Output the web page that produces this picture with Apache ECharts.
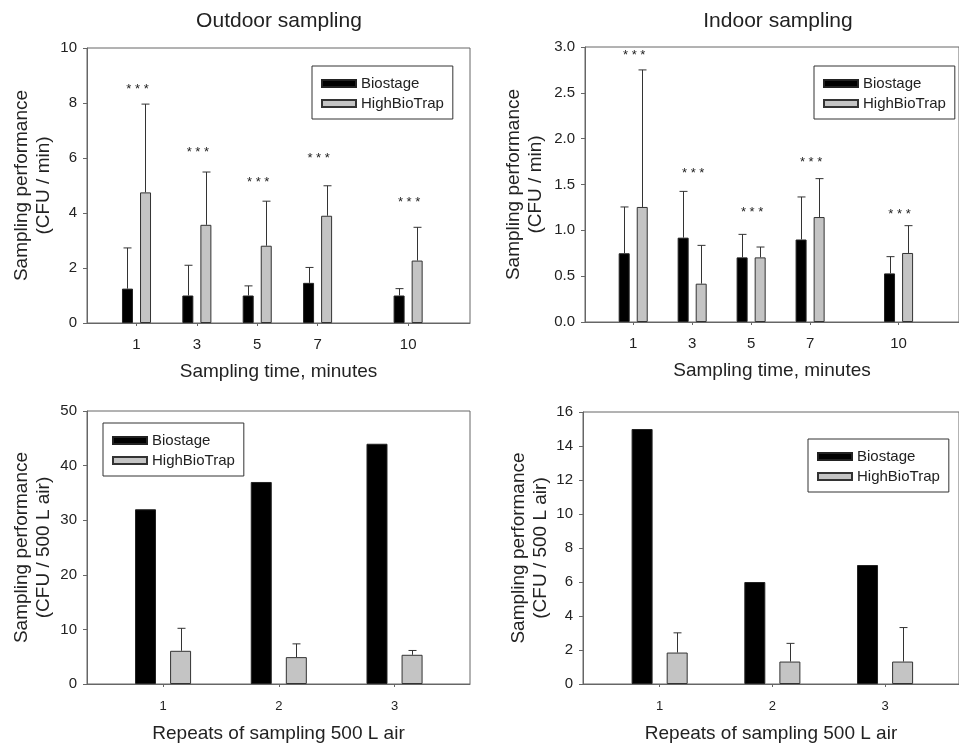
<!DOCTYPE html>
<html>
<head>
<meta charset="utf-8">
<script src="https://cdn.jsdelivr.net/npm/echarts@6/dist/echarts.min.js"></script>
<style>
html,body{margin:0;padding:0;background:#fff;}
#chart{width:959px;height:744px;}
</style>
</head>
<body>
<div id="chart"></div>
<script>
// ---- Data ----
const timeCats = [1, 3, 5, 7, 10];
const outdoorBio = [1.25, 1.0, 1.0, 1.46, 1.0];
const outdoorBioErr = [2.73, 2.1, 1.35, 2.02, 1.25];
const outdoorHBT = [4.75, 3.57, 2.81, 3.9, 2.27];
const outdoorHBTErr = [7.96, 5.49, 4.43, 4.99, 3.48];
const outdoorStars = [8.5, 6.2, 5.1, 6.0, 4.4];

const indoorBio = [0.75, 0.92, 0.705, 0.9, 0.53];
const indoorBioErr = [1.255, 1.425, 0.956, 1.364, 0.713];
const indoorHBT = [1.255, 0.418, 0.705, 1.145, 0.753];
const indoorHBTErr = [2.75, 0.836, 0.818, 1.564, 1.051];
const indoorStars = [2.91, 1.62, 1.2, 1.74, 1.17];

const repeatCats = [1, 2, 3];
const outdoorRepBio = [32, 37, 44];
const outdoorRepHBT = [6.08, 4.92, 5.35];
const outdoorRepHBTErr = [10.2, 7.35, 6.14];

const indoorRepBio = [15, 6, 7];
const indoorRepHBT = [1.85, 1.32, 1.32];
const indoorRepHBTErr = [3.01, 2.39, 3.32];

const seriesNames = ['Biostage', 'HighBioTrap'];

// ---- Styles ----
const FONT = "'Liberation Sans', Arial, sans-serif";
const TXT = '#222';
const AX = '#666';

function pairs(cats, vals) { return cats.map((c, i) => [c, vals[i]]); }
function triples(cats, vals, tops) { return cats.map((c, i) => [c, vals[i], tops[i]]); }

function errRender(offset, capHalf) {
  return function (params, api) {
    const x = api.value(0), v = api.value(1), t = api.value(2);
    const p0 = api.coord([x, v]);
    const p1 = api.coord([x, t]);
    const cx = Math.round(p0[0] + offset) + 0.5;
    return {
      type: 'group',
      children: [
        { type: 'line', shape: { x1: cx, y1: p0[1], x2: cx, y2: p1[1] }, style: { stroke: '#333', lineWidth: 1 } },
        { type: 'line', shape: { x1: cx - capHalf, y1: p1[1], x2: cx + capHalf, y2: p1[1] }, style: { stroke: '#333', lineWidth: 1 } }
      ]
    };
  };
}

function starRender(params, api) {
  const p = api.coord([api.value(0), api.value(1)]);
  return {
    type: 'text',
    style: { text: '* * *', x: p[0] + 1, y: p[1], textAlign: 'center', textVerticalAlign: 'middle',
             fontSize: 13, fontFamily: FONT, fill: '#222' }
  };
}

const grids = [
  { left: 87, top: 48, width: 383, height: 275 },
  { left: 585, top: 47, width: 384, height: 275 },
  { left: 87, top: 411, width: 383, height: 274 },
  { left: 583, top: 412, width: 387, height: 274 }
].map(g => Object.assign(g, { show: true, borderColor: AX, borderWidth: 1, backgroundColor: 'transparent' }));

function xAxis(idx, cats, min, max, name, labelSize, labelMargin, nameGap) {
  return {
    gridIndex: idx, type: 'value', min: min, max: max,
    axisLine: { show: true, onZero: false, lineStyle: { color: AX } },
    axisTick: { show: true, customValues: cats, length: 3, lineStyle: { color: AX } },
    axisLabel: { customValues: cats, fontSize: labelSize, color: TXT, fontFamily: FONT, margin: labelMargin },
    splitLine: { show: false },
    name: name, nameLocation: 'middle', nameGap: nameGap,
    nameTextStyle: { fontSize: 19, color: TXT, fontFamily: FONT }
  };
}

function yAxis(idx, max, interval, name, nameGap, fmt) {
  return {
    gridIndex: idx, type: 'value', min: 0, max: max, interval: interval,
    axisLine: { show: true, onZero: false, lineStyle: { color: AX } },
    axisTick: { show: true, length: 4, lineStyle: { color: AX } },
    axisLabel: { fontSize: 15, color: TXT, fontFamily: FONT, margin: 10, formatter: fmt },
    splitLine: { show: false },
    name: name, nameLocation: 'middle', nameRotate: 90, nameGap: nameGap,
    nameTextStyle: { fontSize: 19, color: TXT, fontFamily: FONT, lineHeight: 22 }
  };
}

function legend(left, top) {
  return {
    left: left, top: top, orient: 'vertical', icon: 'rect',
    itemWidth: 34, itemHeight: 7, itemGap: 5, padding: [10, 9, 8, 9],
    borderColor: '#333', borderWidth: 1, selectedMode: false,
    textStyle: { fontSize: 15, color: TXT, fontFamily: FONT },
    data: seriesNames
  };
}

const bioStyle = { color: '#000', borderColor: '#222', borderWidth: 1 };
const hbtStyle = { color: '#c4c4c4', borderColor: '#333', borderWidth: 1 };

function barPair(idx, cats, bio, hbt, bw, gap) {
  return [
    { type: 'bar', name: seriesNames[0], xAxisIndex: idx, yAxisIndex: idx, data: pairs(cats, bio),
      barWidth: bw, barGap: gap, itemStyle: bioStyle, silent: true },
    { type: 'bar', name: seriesNames[1], xAxisIndex: idx, yAxisIndex: idx, data: pairs(cats, hbt),
      barWidth: bw, barGap: gap, itemStyle: hbtStyle, silent: true }
  ];
}

function errSeries(idx, cats, vals, tops, offset, capHalf) {
  return { type: 'custom', xAxisIndex: idx, yAxisIndex: idx, data: triples(cats, vals, tops),
           renderItem: errRender(offset, capHalf), z: 3, silent: true };
}

function starSeries(idx, cats, ys) {
  return { type: 'custom', xAxisIndex: idx, yAxisIndex: idx, data: pairs(cats, ys),
           renderItem: starRender, z: 4, silent: true };
}

const option = {
  animation: false,
  textStyle: { fontFamily: FONT },
  title: [
    { text: 'Outdoor sampling', left: 279, top: 11, textAlign: 'center', padding: 0,
      textStyle: { fontSize: 21, fontWeight: 'normal', color: TXT, fontFamily: FONT } },
    { text: 'Indoor sampling', left: 778, top: 11, textAlign: 'center', padding: 0,
      textStyle: { fontSize: 21, fontWeight: 'normal', color: TXT, fontFamily: FONT } }
  ],
  legend: [legend(312, 66), legend(814, 66), legend(103, 423), legend(808, 439)],
  grid: grids,
  xAxis: [
    xAxis(0, timeCats, -0.64, 12.05, 'Sampling time, minutes', 15, 14, 39),
    xAxis(1, timeCats, -0.635, 12.05, 'Sampling time, minutes', 15, 14, 39),
    xAxis(2, repeatCats, 0.343, 3.652, 'Repeats of sampling 500 L air', 13, 16, 40),
    xAxis(3, repeatCats, 0.32, 3.656, 'Repeats of sampling 500 L air', 13, 16, 40)
  ],
  yAxis: [
    yAxis(0, 10, 2, 'Sampling performance\n(CFU / min)', 32, null),
    yAxis(1, 3, 0.5, 'Sampling performance\n(CFU / min)', 38, v => v.toFixed(1)),
    yAxis(2, 50, 10, 'Sampling performance\n(CFU / 500 L air)', 32, null),
    yAxis(3, 16, 2, 'Sampling performance\n(CFU / 500 L air)', 31, null)
  ],
  series: [
    ...barPair(0, timeCats, outdoorBio, outdoorHBT, 11, '64%'),
    errSeries(0, timeCats, outdoorBio, outdoorBioErr, -9, 4),
    errSeries(0, timeCats, outdoorHBT, outdoorHBTErr, 9, 4),
    starSeries(0, timeCats, outdoorStars),

    ...barPair(1, timeCats, indoorBio, indoorHBT, 11, '64%'),
    errSeries(1, timeCats, indoorBio, indoorBioErr, -9, 4),
    errSeries(1, timeCats, indoorHBT, indoorHBTErr, 9, 4),
    starSeries(1, timeCats, indoorStars),

    ...barPair(2, repeatCats, outdoorRepBio, outdoorRepHBT, 21, '67%'),
    errSeries(2, repeatCats, outdoorRepHBT, outdoorRepHBTErr, 17.5, 4),

    ...barPair(3, repeatCats, indoorRepBio, indoorRepHBT, 21, '67%'),
    errSeries(3, repeatCats, indoorRepHBT, indoorRepHBTErr, 17.5, 4)
  ]
};

const chart = echarts.init(document.getElementById('chart'), null, { renderer: 'canvas' });
chart.setOption(option);
</script>
</body>
</html>
